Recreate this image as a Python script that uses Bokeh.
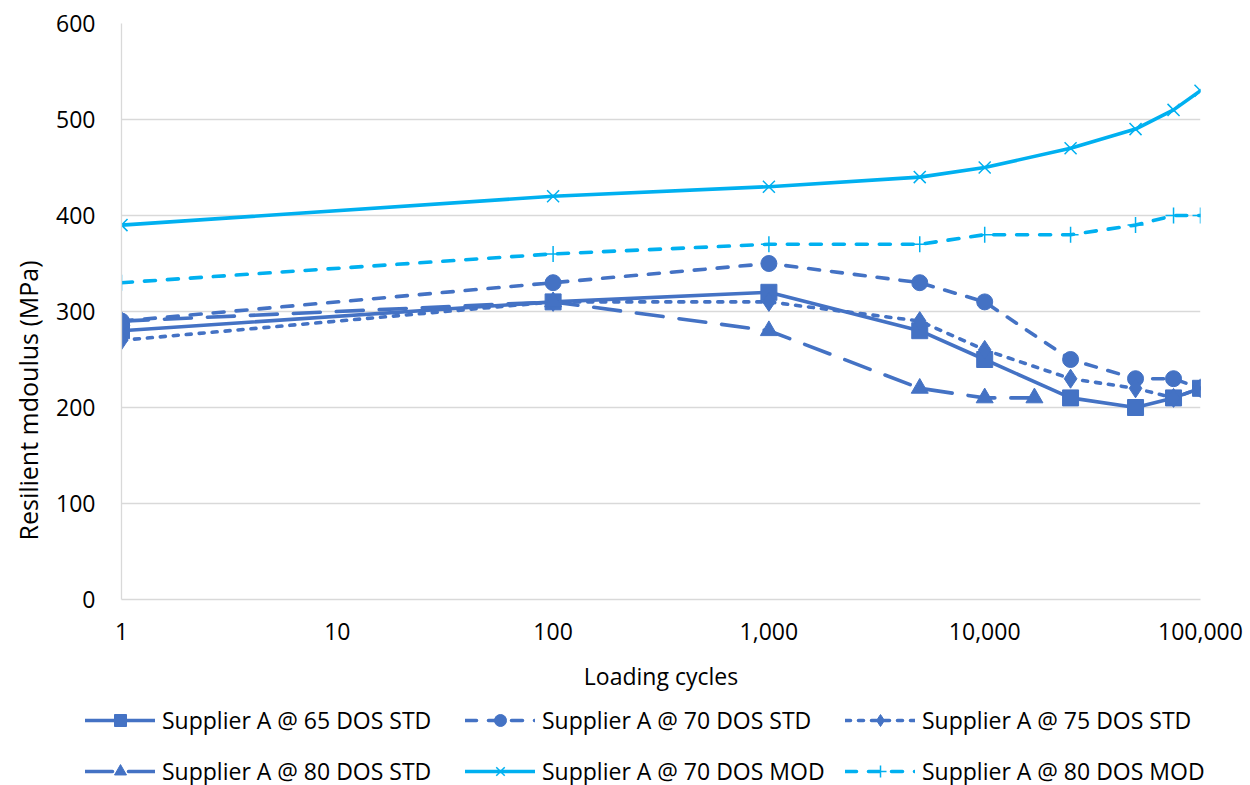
from bokeh.plotting import figure
from bokeh.layouts import column, row
from bokeh.models import (Range1d, FixedTicker, NumeralTickFormatter, Legend,
                          LegendItem, Title)
from bokeh.embed import file_html
from bokeh.resources import INLINE

cycles = [1, 100, 1000, 5000, 10000, 25000, 50000, 75000, 100000]
cycles_80std = [1, 100, 1000, 5000, 10000, 17000]

s65_std = [280, 310, 320, 280, 250, 210, 200, 210, 220]
s70_std = [290, 330, 350, 330, 310, 250, 230, 230, 220]
s75_std = [270, 310, 310, 290, 260, 230, 220, 210, 220]
s80_std = [290, 310, 280, 220, 210, 210]
s70_mod = [390, 420, 430, 440, 450, 470, 490, 510, 530]
s80_mod = [330, 360, 370, 370, 380, 380, 390, 400, 400]

labels = ["Supplier A @ 65 DOS STD", "Supplier A @ 70 DOS STD",
          "Supplier A @ 75 DOS STD", "Supplier A @ 80 DOS STD",
          "Supplier A @ 70 DOS MOD", "Supplier A @ 80 DOS MOD"]

x_ticks = [1, 10, 100, 1000, 10000, 100000]
y_ticks = [0, 100, 200, 300, 400, 500, 600]

DARK = "#4472C4"
LIGHT = "#00B0F0"
FONT = "Open Sans"
FS = "23px"

p = figure(frame_width=1079, frame_height=576, x_axis_type="log",
           output_backend="svg", toolbar_location=None,
           x_range=Range1d(1, 100000), y_range=Range1d(0, 600),
           min_border_left=121, min_border_right=50, min_border_top=23,
           min_border_bottom=91)
p.outline_line_color = None
p.background_fill_color = "white"
p.border_fill_color = "white"

p.xgrid.grid_line_color = None
p.ygrid.grid_line_color = "#D9D9D9"
p.ygrid.grid_line_width = 1.3
p.ygrid.ticker = FixedTicker(ticks=y_ticks)

p.xaxis.ticker = FixedTicker(ticks=x_ticks)
p.xaxis.formatter = NumeralTickFormatter(format="0,0")
p.yaxis.ticker = FixedTicker(ticks=y_ticks)
for ax in (p.xaxis, p.yaxis):
    ax.axis_line_color = "#D9D9D9"
    ax.axis_line_width = 1.3
    ax.major_tick_line_color = None
    ax.minor_tick_line_color = None
    ax.major_tick_out = 0
    ax.major_tick_in = 0
    ax.major_label_text_font = FONT
    ax.major_label_text_font_size = FS
    ax.major_label_text_color = "#000000"
    ax.axis_label_text_font = FONT
    ax.axis_label_text_font_size = FS
    ax.axis_label_text_font_style = "normal"
    ax.axis_label_text_color = "#000000"
p.yaxis.major_label_standoff = 26
p.xaxis.major_label_standoff = 23
p.xaxis.axis_label = "Loading cycles"
p.xaxis.axis_label_standoff = 17

ytitle = Title(text="Resilient mdoulus (MPa)", align="left", offset=59,
               standoff=17, text_font=FONT, text_font_size="25px",
               text_font_style="normal", text_color="#000000")
p.add_layout(ytitle, "left")

styles = [
    (DARK, "solid", "square", 16, 1.0, True),
    (DARK, "11 12", "circle", 16, 1.0, True),
    (DARK, "5 8", "diamond", 19, 1.0, True),
    (DARK, "27 16", "triangle", 17, 1.0, True),
    (LIGHT, "solid", "x", 17, 1.5, False),
    (LIGHT, "11 12", "cross", 16, 1.5, False),
]
xs_list = [cycles, cycles, cycles, cycles_80std, cycles, cycles]
ys_list = [s65_std, s70_std, s75_std, s80_std, s70_mod, s80_mod]

def draw(fig, xs, ys, st):
    color, dash, marker, msize, mline, mfill = st
    l = fig.line(xs, ys, line_color=color, line_width=3.6, line_dash=dash,
                 line_cap="round", line_join="round")
    s = fig.scatter(xs, ys, marker=marker, size=msize, line_color=color,
                    fill_color=color if mfill else None, line_width=mline)
    return [l, s]

for xs, ys, st in zip(xs_list, ys_list, styles):
    draw(p, xs, ys, st)

# legend panel below the chart (its renderers lie outside its ranges)
lf = figure(width=1250, height=95, output_backend="svg", toolbar_location=None,
            x_axis_location=None, y_axis_location=None,
            x_range=Range1d(-2, -1), y_range=Range1d(-2, -1),
            min_border_left=0, min_border_right=0, min_border_top=0,
            min_border_bottom=0)
lf.outline_line_color = None
lf.grid.grid_line_color = None
lf.background_fill_color = "white"
lf.border_fill_color = "white"

legend_rs = [draw(lf, xs, ys, st) for xs, ys, st in zip(xs_list, ys_list, styles)]
cols = [[0, 3], [1, 4], [2, 5]]
for i, idx in enumerate(cols):
    lg = Legend(items=[LegendItem(label=labels[k], renderers=legend_rs[k]) for k in idx],
                location=(85 + 380 * i, 2), orientation="vertical",
                glyph_width=70, glyph_height=30, label_height=30,
                label_standoff=7, spacing=19, padding=0, margin=0,
                label_text_font=FONT, label_text_font_size=FS,
                label_text_color="#000000",
                background_fill_alpha=0, border_line_color=None)
    lf.add_layout(lg, "center")

layout = column(p, row(lf), spacing=0)
open("out.html", "w").write(file_html(layout, INLINE))
